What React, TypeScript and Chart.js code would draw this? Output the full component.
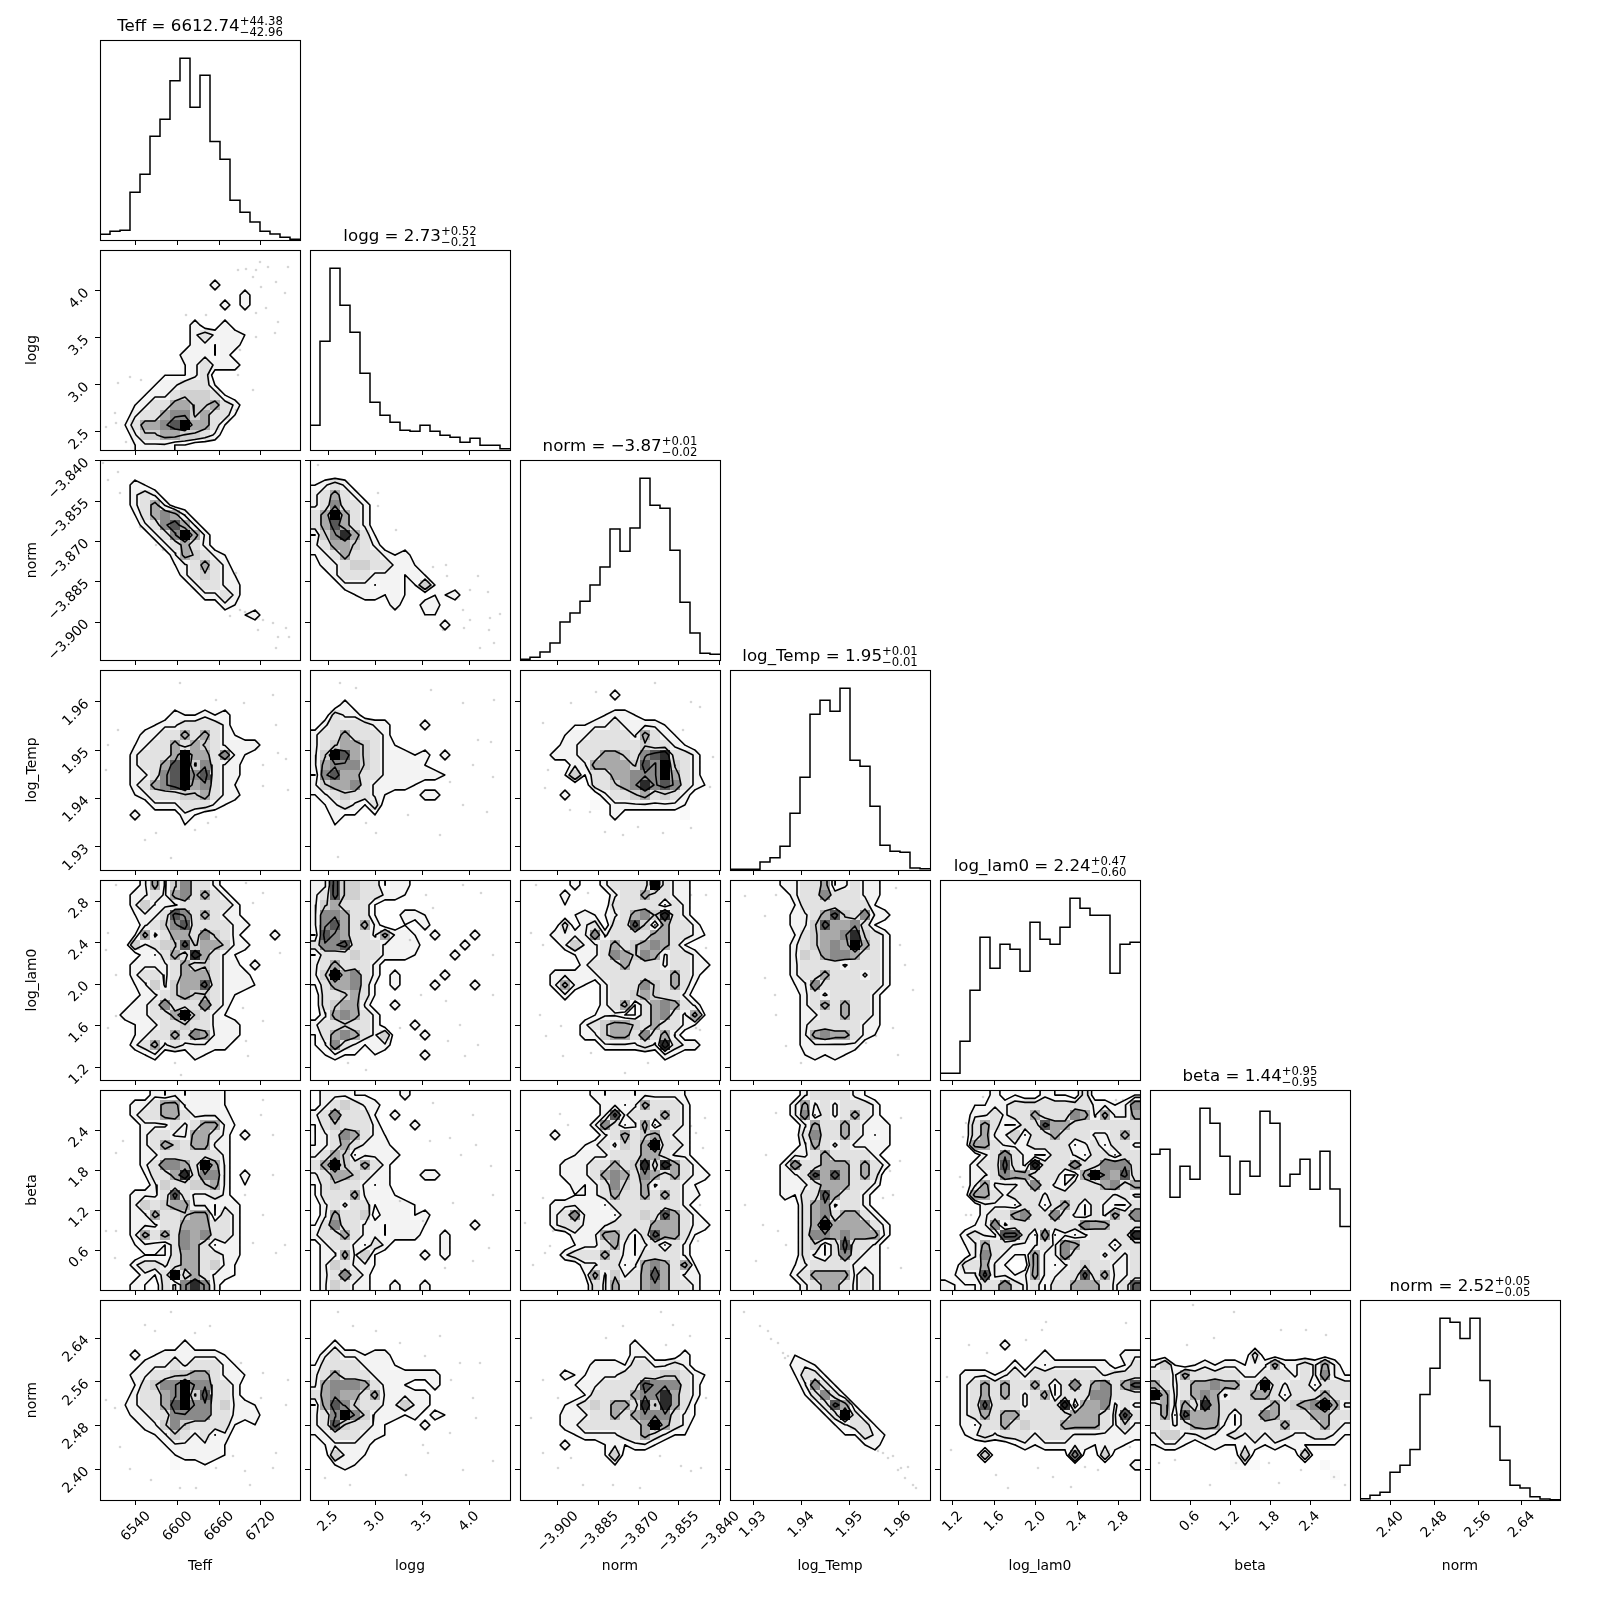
import React, { useEffect, useRef } from "react";
import { Chart, registerables } from "chart.js";

Chart.register(...registerables);

// ---- parameters -------------------------------------------------------
const paramNames = ["Teff", "logg", "norm", "log_Temp", "log_lam0", "beta", "norm"];
const paramRanges = [
  [6488.2, 6776.2],
  [2.308, 4.436],
  [-3.9141, -3.8397],
  [1.92524, 1.96662],
  [1.075, 3.003],
  [0, 3],
  [2.344, 2.71],
];
const paramTicks = [
  [6540, 6600, 6660, 6720],
  [2.5, 3.0, 3.5, 4.0],
  [-3.9, -3.885, -3.87, -3.855, -3.84],
  [1.93, 1.94, 1.95, 1.96],
  [1.2, 1.6, 2.0, 2.4, 2.8],
  [0.6, 1.2, 1.8, 2.4],
  [2.4, 2.48, 2.56, 2.64],
];
const tickDecimals = [0, 1, 3, 2, 1, 1, 2];
const titleValues = ["6612.74", "2.73", "\u22123.87", "1.95", "2.24", "1.44", "2.52"];
const titlePlus = ["+44.38", "+0.52", "+0.01", "+0.01", "+0.47", "+0.95", "+0.05"];
const titleMinus = ["\u221242.96", "\u22120.21", "\u22120.02", "\u22120.01", "\u22120.60", "\u22120.95", "\u22120.05"];

// ---- 1-D histograms (20 bins) -----------------------------------------
const histTeff = [17, 26, 29, 143, 197, 311, 362, 477, 545, 398, 494, 295, 242, 119, 83, 54, 26, 18, 8, 2];
const histLogg = [74, 326, 545, 434, 353, 230, 143, 104, 83, 59, 56, 74, 56, 44, 38, 23, 35, 14, 14, 4];
const histNorm = [2, 8, 24, 51, 114, 141, 176, 225, 279, 393, 326, 396, 545, 464, 455, 329, 173, 81, 20, 17];
const histLogTemp = [2, 2, 2, 24, 37, 71, 170, 278, 467, 509, 476, 545, 329, 311, 191, 74, 56, 53, 6, 4];
const histLogLam0 = [20, 20, 116, 269, 428, 335, 407, 392, 326, 473, 422, 407, 458, 545, 515, 494, 494, 320, 407, 413];
const histBeta = [407, 422, 278, 371, 332, 545, 500, 401, 287, 386, 341, 536, 500, 311, 347, 392, 302, 416, 303, 190];
const histNorm2 = [4, 14, 23, 83, 104, 152, 317, 396, 546, 534, 485, 546, 359, 221, 119, 44, 36, 10, 3, 1];
const histograms = [histTeff, histLogg, histNorm, histLogTemp, histLogLam0, histBeta, histNorm2];

// ---- 2-D density grids: 20 rows top to bottom, 20 columns left to right -
const gridLoggTeff = ["", "", "", "00000000000200000000", "00000000000000200000", "00000000000020200000", "", "00000000020020000000", "00000000023222100000", "00000000022122000000", "00000000222120000000", "00000000123222000000", "00000011123000000000", "00000122333100000000", "00001223444310000000", "00012335544532000000", "00023356645331000000", "00135567955310000000", "00024455443200000000", "00012221100000000000"];
const gridNormTeff = ["", "", "00021000000000000000", "00023200000000000000", "00023520000000000000", "00013565200000000000", "00002367520000000000", "00000236952000000000", "00000023532000000000", "00000002543210000000", "00000001235320000000", "00000000234321000000", "00000000023322000000", "00000000002232000000", "00000000000021000000", "00000000000000120000"];
const gridNormLogg = ["", "", "1232", "23532", "236332", "359532", "357532", "1468531", "2355432", "1235333212", "02234433221", "002333222121", "0002221221141", "000012212100112", "00000000200220000000", "00000000000110000000", "00000000000002000000"];
const gridTempTeff = ["", "", "", "", "00000002112120000000", "00000122333320000000", "00002233535321000000", "00012335354322220000", "00023335955362100000", "00023357946322000000", "00022367967322000000", "00023567956321000000", "00012333445322000000", "00000222333210000000", "00020000210000000000", "00000000100000000000"];
const gridTempLogg = ["", "", "", "00020000000000000000", "00322000000000000000", "02333322000200000000", "23353332000000000000", "23455432100000000000", "24975432221202000000", "256664322221", "16755332222221", "24556322221", "12343321000220000000", "01232130000000000000", "00211010000000000000", "00100000000000000000"];
const gridTempNorm = ["", "", "00000000020000000000", "", "00000000122100000000", "00000112232222100000", "00001223333253210000", "00002233333343321000", "00022233554367833200", "00000225555476943200", "00001413355666953200", "00000003345686763210", "00002000233453432000", "00000001022222221000", "00000000020000001000"];
const gridLamTeff = ["00002524633200000000", "00022325635320000000", "00024222333332000000", "00012237635322000000", "00002346733332200000", "00015235536432000200", "00042344745542200000", "00002135385321000000", "00022223534322020000", "00023323555322200000", "00012424557322210000", "00002234544321000000", "00022363336320000000", "00222335943210000000", "00012233433222000000", "00012335365222000000", "00023523222220000000", "00001200021000000000"];
const gridLamLogg = ["2274433122", "2374433221", "2453331", "26653310022100000000", "26753520010200000000", "17653325221020002000", "36673332222000020000", "13334332221000200000", "2353332", "24956320200002000000", "13556310200020002000", "0334531", "03455200200000000000", "0256532", "23343320002000000000", "13565324000200000000", "12632122", "01211010000200000000"];
const gridLamNorm = ["00000200233339322000", "00002000023353322000", "00001000033333132000", "00000121123564832000", "00003023033741533200", "00022226233335533210", "00002422353456531000", "00000122365465233200", "00000023335333233220", "00022222333333353200", "00025210233364353100", "00002000233454332000", "00000000235135653200", "00000001221135632510", "00000023455435332100", "00000022455363520000", "00000000222232832200", "00000000000000210000"];
const gridLamTemp = ["00000223351232200000", "00000023363332200000", "00000013333333100000", "00000022357436220000", "00000022475563100000", "00000013455684320000", "00000023456595320000", "00000024356653320000", "00000023333233320000", "00000023353332320000", "00000012633333320000", "00000002323333200000", "00000002353533200000", "00000002233533200000", "00000002333332200000", "00000002565532100000", "00000002222220000000", "00000001212100000000"];
const gridBetaTeff = ["00000212122210000000", "00022355222210000000", "00023355322220000000", "00002223235521000000", "00002332255320200000", "00002354355220000000", "00002233333320000000", "00002366539520000000", "00001335836620200000", "00000243344520100000", "00022237322320000000", "00024345522122000000", "00022533455132000000", "00022233555332000000", "00025353656332000000", "00012213653122000000", "00001113553322000000", "00023323553421000000", "00002139353221000000", "00021032686200000000"];
const gridBetaLogg = ["02221100020000000000", "0234322", "23633310200000000000", "13433320002000000000", "12365321", "12353222", "235412222", "35943532", "23554322000220000000", "13433212", "133352221", "02323312221", "025334022212", "13633221222100002000", "23353221222002000000", "02332132000002000000", "02252410000202000000", "0243221", "023632", "02432200200200000000"];
const gridBetaNorm = ["00000002122122221000", "00000000221253332000", "00000000272333532000", "00000002631251332000", "00020000235345322000", "00000012324359332000", "00000122233355322000", "00002223353483853200", "00002223565365353220", "00000212364352332100", "00000112353353532200", "00022222133333332000", "00023622213343753200", "00023322233335553220", "00000222553137553100", "00000122352123132000", "00002333532133332000", "00000022331256535100", "00000015242357532200", "00000003253356533200"];
const gridBetaTemp = ["00000002333321000000", "00000025232333200000", "00000026132353200000", "00000002533532220000", "00000003633532120000", "00000002532322220000", "00000022353333200000", "00000263355535320000", "00000223757535300000", "00000222355533200000", "00000213375332000000", "00000003562332000000", "00000003563553200000", "00000003595555320000", "00000003665655520000", "00000003413733200000", "00000003213632200000", "00000012333322200000", "00000023555523200000", "00000002355323200000"];
const gridBetaLam = ["00000201002110300001", "00011223333333322126", "00022323353336525225", "00035311337553333333", "00035224133533322353", "00055322233331231332", "00002363211332133133", "00023373283336336663", "00022365533311596573", "00025222363213335635", "00055323332333333232", "00002221331353132113", "00002335633632132536", "00012623333333655333", "00232277316121233338", "00125332223265333133", "00026321152263332323", "00335210052123433223", "01227221252233735223", "21113363231335553237"];
const gridN2Teff = ["", "", "", "", "00000000200000000000", "00020122222210000000", "00002223233321000000", "00022334455322100000", "00013466966332000000", "00023356947332000000", "00123357966342210000", "00022336666332220000", "00002246433331010000", "00000124323120000000", "00000012222210000000", "00000001222210000000", "00000001001000000000"];
const gridN2Logg = ["", "", "", "", "00200000000000000000", "02322122", "133332221", "2353332222222", "25666532210020000000", "356553522222", "157643322422", "23696422212021", "23743321000200000000", "12333221", "012222", "004221", "00121"];
const gridN2Norm = ["", "", "", "", "00000000000200000000", "00000000000220002000", "00000002221332232000", "00002112223333443210", "00000122333376663200", "00000013333566853200", "00001234355384853100", "00002223353566632100", "00002233333359532000", "00000122223353211000", "00002000121221000000", "00000000140000000000", "00000000010000000000"];
const gridN2Temp = ["", "", "", "", "", "00000010000000000000", "00000022100000000000", "00000013310000000000", "00000002631000000000", "00000001363100000000", "00000000137510000000", "00000000013931000000", "00000000001233100000", "00000000000113210000", "00000000000001200000"];
const gridN2Lam = ["", "", "", "", "00000020000000000000", "00000000002000000022", "00000002021222222013", "00222123233333332333", "00235353353136356357", "00235353235133366333", "00237333233381556232", "00235355333335553273", "00213353433355553242", "00123233323332222222", "00000001212222212210", "00004000000006004000", "00000000000000000002"];
const gridN2Beta = ["", "", "", "", "", "00000000003000000000", "24101212212252232520", "33253333322333232621", "53235565533932331333", "95235652335531333533", "35253853333353456952", "35175553133653335533", "33235552133335333532", "24422322323233223321", "12210121122121211110", "00000000040000040000", "00000000111000000100", "00000000000000000010"];

// ---- isolated samples, as (column, row) positions in the 20-bin grid -----
const dotsLoggTeff = [16, 1.2, 13.8, 2, 14.6, 1.9, 15.6, 2, 16.8, 1.7, 18.8, 1.7, 15.3, 2.7, 16.1, 3.7, 17.6, 3.2, 18.5, 4.3, 16.6, 5.8, 15.6, 6.3, 10.6, 6.5, 8.6, 6.5, 17.8, 7.2, 17.5, 8.3, 15.6, 8.7, 14, 10, 13.8, 12.5, 15.3, 14, 13.6, 16, 3, 12.7, 1.8, 13.3, 4.1, 13, 1.5, 16.3, 0.6, 17.7, 2.6, 19.2, 1.6, 17.3];
const dotsNormTeff = [1.8, 1.2, 0.8, 2, 2, 3.3, 0.3, 0.3, 4, 6.7, 5.6, 8.5, 6.3, 9, 14, 15, 14.5, 15.2, 13, 15.6, 16.3, 16, 17.3, 16.3, 18.6, 16.8, 17.8, 17.7, 17.6, 18.8, 18.9, 17.7, 15.8, 17, 13.6, 11.3];
const dotsNormLogg = [0.8, 0.5, 6.8, 3.3, 8.6, 7, 6.8, 4.6, 12.3, 10.7, 13.6, 10.5, 13.7, 11.6, 16.8, 11.6, 16, 13, 17.8, 13.2, 15.3, 15, 16, 16, 18, 15.8, 19, 15.4, 15.4, 16.8, 18.4, 18.3, 17, 18.8, 13.3, 17, 17.9, 17];
const dotsTempTeff = [8, 1.3, 11.6, 3, 14.4, 3.3, 17.3, 2.5, 17.6, 5.5, 18.6, 8.9, 17.8, 8.3, 16.3, 9.5, 16.3, 11.6, 18.8, 12, 0.6, 10, 1.8, 6, 0.8, 7.5, 5.6, 16.3, 4.5, 17, 9.5, 16, 10.8, 15.3, 7.1, 18.8, 11.6, 14.7];
const dotsTempLogg = [3, 1.3, 4.6, 1.8, 12.1, 2, 15.3, 3.3, 18.4, 3, 16.8, 7, 18.1, 7.2, 16.3, 9.5, 18.3, 10.7, 14, 11.2, 17.7, 14.2, 15.3, 13.5, 13, 16.5, 9.8, 14.5, 6.6, 16.3, 2.8, 18.7, 5.6, 15.3];
const dotsTempNorm = [5.1, 3.3, 2.3, 5.3, 7.6, 2.2, 13.5, 1.3, 17.1, 3.2, 16.3, 6, 18, 3.7, 19.3, 8.7, 2.8, 10, 2.5, 11.8, 7, 14.2, 5, 14, 10.3, 16.5, 8.5, 16.2, 14.3, 16.3, 17.1, 15.8, 19, 11.7, 11.8, 15.7];
const dotsLamTeff = [1.6, 0.5, 14.6, 0.3, 16.3, 1.3, 15.3, 2.3, 0.8, 5.3, 0.6, 7, 18, 7.3, 14.3, 12.8, 16.3, 14.1, 14.8, 17.6, 7.5, 18.3, 8.1, 19.5, 1.6, 9.5, 1.6, 13.6, 0.8, 14.8, 14.6, 16.1];
const dotsLamLogg = [11.6, 1.5, 15.3, 0.5, 17.1, 1.3, 12.3, 2.8, 18.3, 7.5, 11.1, 11.5, 13.6, 12.1, 18.3, 11.5, 15, 14.5, 13.8, 16.1, 3.8, 18.3, 5.6, 19, 15.5, 17.6, 16.8, 16.5, 9, 14.8, 10, 6];
const dotsLamNorm = [1.6, 0.5, 6.8, 1.3, 17.1, 1.5, 18.6, 1.5, 1.1, 5.3, 2.3, 6.5, 18.6, 6.8, 17.6, 14.8, 4.1, 14.6, 2.6, 15.6, 7.1, 17.3, 4.3, 17.6, 12.8, 18.3, 10.5, 19.3, 18, 15, 2, 13.5];
const dotsLamTemp = [1.5, 1.6, 4.6, 1.5, 3.5, 3.6, 16.6, 0.8, 17, 6.5, 17.5, 8.5, 18.3, 11, 3.5, 9.8, 4.5, 11.5, 4.6, 13.5, 5.6, 16.6, 7.1, 18.3, 14.6, 15.6, 16.3, 14.8, 13.6, 16.3, 16.8, 17.5];
const dotsBetaTeff = [1.6, 6.3, 16.1, 2.5, 16.3, 1, 17.3, 8.5, 18.5, 15.5, 15.3, 15.3, 1.6, 14.1, 0.6, 14.1, 14.5, 10.5, 2.3, 5.1, 17.3, 4.5, 17.6, 16.3, 16.3, 12.5, 1.5, 16.8];
const dotsBetaLogg = [12.3, 1.3, 16.3, 2.5, 14, 4.8, 16.6, 5.5, 15.1, 6.5, 12, 5.1, 14.3, 11.3, 18.3, 10.5, 17.9, 15.8, 11.3, 13.1, 16.3, 17.1, 13.5, 17.8, 9, 11.1, 18.1, 7.6];
const dotsBetaNorm = [4, 2.4, 4.8, 3.5, 17.1, 3.6, 17.6, 4.3, 18.5, 2.8, 3.3, 14.1, 2.5, 16.3, 3, 15.6, 18, 11.5, 2.3, 10.8, 0.5, 13.3, 18.3, 5.8, 17.8, 15.1, 1.3, 17.5];
const dotsBetaTemp = [4.6, 2.3, 3.6, 6.5, 16, 8.1, 17, 7.1, 16.3, 10.5, 15.3, 10.8, 1.5, 11.5, 3.3, 13.5, 4.8, 14.1, 15.8, 15.8, 17.1, 17.8, 17.1, 2.8, 5.6, 15.5, 2.6, 17.1];
const dotsBetaLam = [2.6, 3.3, 2.3, 4.7, 4.3, 0.7, 17.6, 1, 18.3, 1, 2.6, 12.5, 3.1, 12.5, 2.3, 9.7, 2, 8.7];
const dotsN2Teff = [7.1, 1.2, 4.5, 2.5, 5.5, 3.1, 9.5, 3.3, 11, 2.6, 14.1, 6.3, 16.3, 7.3, 18.8, 8, 0.6, 10, 1.5, 10.8, 18.6, 10.5, 16.1, 9.8, 17.6, 15.3, 13.3, 15.6, 17.3, 16.8, 15, 18.5, 14.5, 17.1, 11.6, 16.8, 3, 16.9, 5.1, 18, 8, 18.8, 9.6, 18.8, 2, 14.7];
const dotsN2Logg = [2.8, 1.2, 4.3, 2.6, 6.6, 3.1, 9, 4.3, 13, 3.6, 11.5, 5.6, 15, 6.3, 17, 6.3, 14.1, 8, 16.3, 9.8, 16.6, 11.8, 14, 13.3, 11.3, 14.5, 11.8, 15.3, 9.6, 17.5, 15.3, 17, 18.3, 16.1, 4, 18.5, 1.5, 17.8];
const dotsN2Norm = [10.3, 2.6, 8.6, 3.8, 15.3, 2.5, 14.1, 1.2, 17, 3.6, 14.6, 4.5, 2.3, 8, 3.8, 9.8, 1.1, 11.8, 18.6, 9.8, 2.3, 15.3, 5.1, 15.8, 3.8, 16.8, 6.3, 18.5, 9.3, 18.5, 12, 18.8, 14, 15.6, 16.1, 16.6, 17.1, 17.1, 18.1, 16.8];
const dotsN2Temp = [1.4, 1.2, 3, 2.6, 3.8, 3.1, 4.1, 3.9, 4.8, 4.3, 5.3, 5.3, 5.8, 5.6, 5.5, 5.8, 15.3, 15.3, 15.8, 15.8, 16.3, 15.6, 14.8, 15.1, 17.1, 16.8, 17.8, 16.7, 16.8, 17, 18.3, 18.5, 18.6, 18.8, 17.5, 17.8];
const dotsN2Lam = [10.2, 3, 10.6, 2.2, 8.6, 4, 2.9, 4.5, 4.7, 5.3, 18.6, 2.3, 0.7, 7.7, 1.1, 15, 5.6, 17.5, 9.8, 16.8, 14.5, 16.7, 15.8, 17, 6.8, 18.8, 11.3, 17.7, 19, 14.7, 13.1, 18.7];
const dotsN2Beta = [4.3, 0.5, 6.4, 3.8, 8.4, 1.2, 13.1, 3, 15.6, 3, 17.6, 3.5, 3.7, 4.5, 0.9, 16.3, 2.5, 16, 8.6, 16.3, 18.4, 17.7, 6, 18.5, 19.5, 18.5, 12.9, 18.3, 15.1, 17, 11.9, 16.3];

const panels2D: [number, number, string[], number[]][] = [
  [1, 0, gridLoggTeff, dotsLoggTeff],
  [2, 0, gridNormTeff, dotsNormTeff],
  [2, 1, gridNormLogg, dotsNormLogg],
  [3, 0, gridTempTeff, dotsTempTeff],
  [3, 1, gridTempLogg, dotsTempLogg],
  [3, 2, gridTempNorm, dotsTempNorm],
  [4, 0, gridLamTeff, dotsLamTeff],
  [4, 1, gridLamLogg, dotsLamLogg],
  [4, 2, gridLamNorm, dotsLamNorm],
  [4, 3, gridLamTemp, dotsLamTemp],
  [5, 0, gridBetaTeff, dotsBetaTeff],
  [5, 1, gridBetaLogg, dotsBetaLogg],
  [5, 2, gridBetaNorm, dotsBetaNorm],
  [5, 3, gridBetaTemp, dotsBetaTemp],
  [5, 4, gridBetaLam, dotsBetaLam],
  [6, 0, gridN2Teff, dotsN2Teff],
  [6, 1, gridN2Logg, dotsN2Logg],
  [6, 2, gridN2Norm, dotsN2Norm],
  [6, 3, gridN2Temp, dotsN2Temp],
  [6, 4, gridN2Lam, dotsN2Lam],
  [6, 5, gridN2Beta, dotsN2Beta],
];

// Density digit to gray, and the four contour levels in digit units.
const grayRamp = ["#ffffff", "#f9f9f9", "#f3f3f3", "#e2e2e2", "#d0d0d0", "#a9a9a9", "#8a8a8a", "#565656", "#2a2a2a", "#000000"];
const contourLevels = [1.02, 2.2, 4.2, 6.2];

const FONT = '"DejaVu Sans"';
const TICK_SIZE = 13.9;
const PANEL = 200;
const STEP = 210;
const ORIGIN_X = 100;
const ORIGIN_Y = 40;
const MARGIN_LEFT = 100;
const MARGIN_TOP = 30;
const MARGIN_RIGHT = 45;
const MARGIN_BOTTOM = 100;
const BINS = 20;

function parseGrid(rows: string[]): number[][] {
  const out: number[][] = [];
  for (let r = 0; r < BINS; r++) {
    const s = (rows[r] || "").padEnd(BINS, "0");
    const row: number[] = [];
    for (let c = 0; c < BINS; c++) row.push(Number(s[c]));
    out.push(row);
  }
  return out;
}

// Marching squares over the bin centres; the grid is extended by one
// replicated ring so that lines run out through the panel edges.
function contourPath(grid: number[][], level: number): any[] {
  const at = (r: number, c: number) =>
    grid[Math.max(0, Math.min(BINS - 1, r))][Math.max(0, Math.min(BINS - 1, c))];
  const out: any[] = [];
  const lerp = (a: number, b: number) => (level - a) / (b - a);
  for (let r = -1; r < BINS; r++) {
    for (let c = -1; c < BINS; c++) {
      const tl = at(r, c), tr = at(r, c + 1), br = at(r + 1, c + 1), bl = at(r + 1, c);
      const code = (tl > level ? 8 : 0) | (tr > level ? 4 : 0) | (br > level ? 2 : 0) | (bl > level ? 1 : 0);
      if (code === 0 || code === 15) continue;
      const x0 = c + 0.5, y0 = r + 0.5;
      const top = () => ({ c: x0 + lerp(tl, tr), r: y0 });
      const bottom = () => ({ c: x0 + lerp(bl, br), r: y0 + 1 });
      const left = () => ({ c: x0, r: y0 + lerp(tl, bl) });
      const right = () => ({ c: x0 + 1, r: y0 + lerp(tr, br) });
      const segs: any[][] = [];
      const mean = (tl + tr + br + bl) / 4;
      switch (code) {
        case 1: case 14: segs.push([left(), bottom()]); break;
        case 2: case 13: segs.push([bottom(), right()]); break;
        case 3: case 12: segs.push([left(), right()]); break;
        case 4: case 11: segs.push([top(), right()]); break;
        case 6: case 9: segs.push([top(), bottom()]); break;
        case 7: case 8: segs.push([left(), top()]); break;
        case 5:
          if (mean > level) { segs.push([left(), top()], [bottom(), right()]); }
          else { segs.push([top(), right()], [left(), bottom()]); }
          break;
        case 10:
          if (mean > level) { segs.push([top(), right()], [left(), bottom()]); }
          else { segs.push([left(), top()], [bottom(), right()]); }
          break;
      }
      for (const s of segs) out.push(s[0], s[1], null);
    }
  }
  return out;
}

function fmtTick(v: number, d: number) {
  return v.toFixed(d).replace("-", "\u2212");
}

// Rotated labels are anchored by their end; this slides them along the axis
// so that the middle of the text sits under its tick.
function centreOffset(p: number): number {
  const ctx = document.createElement("canvas").getContext("2d") as CanvasRenderingContext2D;
  ctx.font = `${TICK_SIZE}px ${FONT}`;
  const w = ctx.measureText(fmtTick(paramTicks[p][0], tickDecimals[p])).width;
  return (w / 2) * Math.SQRT1_2;
}

const framePlugin = {
  id: "panelFrame",
  afterDatasetsDraw(chart: any) {
    const { ctx, chartArea: a } = chart;
    ctx.save();
    ctx.strokeStyle = "#000";
    ctx.lineWidth = 1.1;
    ctx.strokeRect(a.left + 0.5, a.top + 0.5, a.right - a.left, a.bottom - a.top);
    ctx.restore();
  },
};

function titlePlugin(p: number) {
  return {
    id: "cornerTitle",
    afterDraw(chart: any) {
      const { ctx, chartArea: a } = chart;
      const main = `${paramNames[p]} = ${titleValues[p]}`;
      ctx.save();
      ctx.fillStyle = "#000";
      ctx.textBaseline = "alphabetic";
      ctx.textAlign = "left";
      ctx.font = `16.67px ${FONT}`;
      const mw = ctx.measureText(main).width;
      ctx.font = `11.67px ${FONT}`;
      const sw = Math.max(ctx.measureText(titlePlus[p]).width, ctx.measureText(titleMinus[p]).width);
      const x = (a.left + a.right) / 2 - (mw + sw) / 2;
      ctx.font = `16.67px ${FONT}`;
      ctx.fillText(main, x, a.top - 9);
      ctx.font = `11.67px ${FONT}`;
      ctx.fillText(titlePlus[p], x + mw, a.top - 15.5);
      ctx.fillText(titleMinus[p], x + mw, a.top - 4.5);
      ctx.restore();
    },
  };
}

function axisOptions(p: number, min: number, max: number, showLabels: boolean, titleText: string | null, isX: boolean) {
  return {
    type: "linear",
    position: isX ? "bottom" : "left",
    min,
    max,
    afterBuildTicks(s: any) {
      s.ticks = paramTicks[p].map((value) => ({ value }));
    },
    afterFit(s: any) {
      if (isX) s.height = MARGIN_BOTTOM;
      else s.width = MARGIN_LEFT;
    },
    grid: { display: true, drawOnChartArea: false, drawTicks: true, tickLength: 5, color: "#000", lineWidth: 1 },
    border: { display: true, color: "#000", width: 1 },
    ticks: {
      display: showLabels,
      autoSkip: false,
      minRotation: 45,
      maxRotation: 45,
      padding: isX ? 3 : 8,
      labelOffset: isX && showLabels ? centreOffset(p) : 0,
      color: "#000",
      font: { family: FONT, size: TICK_SIZE },
      callback: (v: number) => fmtTick(Number(v), tickDecimals[p]),
    },
    title: {
      display: !!titleText,
      text: titleText || "",
      color: "#000",
      font: { family: FONT, size: TICK_SIZE },
      padding: isX ? { top: 0, bottom: 25 } : { top: 24, bottom: 0 },
    },
  };
}

function baseOptions(x: any, y: any) {
  return {
    responsive: false,
    animation: false,
    devicePixelRatio: 1,
    events: [],
    layout: { padding: { left: 0, top: MARGIN_TOP, right: MARGIN_RIGHT, bottom: 0 } },
    plugins: { legend: { display: false }, tooltip: { enabled: false }, title: { display: false } },
    scales: { x, y },
  };
}

function makeHistConfig(p: number): any {
  const [xmin, xmax] = paramRanges[p];
  const hist = histograms[p];
  const w = (xmax - xmin) / BINS;
  const pts = hist.map((y, i) => ({ x: xmin + i * w, y }));
  pts.push({ x: xmax, y: hist[BINS - 1] });
  const last = p === paramNames.length - 1;
  const yAxis: any = axisOptions(p, 0, Math.max(...hist) * 1.1, false, null, false);
  yAxis.afterBuildTicks = (s: any) => { s.ticks = []; };
  yAxis.grid = { display: false };
  yAxis.border = { display: false };
  return {
    type: "scatter",
    data: {
      datasets: [{
        data: pts, showLine: true, stepped: true, pointRadius: 0,
        borderColor: "#000", borderWidth: 1.5, fill: false,
      }],
    },
    options: baseOptions(
      axisOptions(p, xmin, xmax, last, last ? paramNames[p] : null, true),
      yAxis,
    ),
    plugins: [framePlugin, titlePlugin(p)],
  };
}

function make2DConfig(row: number, col: number, rows: string[], dots: number[]): any {
  const [xmin, xmax] = paramRanges[col];
  const [ymin, ymax] = paramRanges[row];
  const grid = parseGrid(rows);
  const X = (c: number) => xmin + (c / BINS) * (xmax - xmin);
  const Y = (r: number) => ymax - (r / BINS) * (ymax - ymin);

  const datasets: any[] = [];
  for (const level of contourLevels) {
    const data = contourPath(grid, level).map((p: any) =>
      p ? { x: X(p.c), y: Y(p.r) } : { x: null, y: null },
    );
    datasets.push({
      data, showLine: true, spanGaps: false, pointRadius: 0,
      borderColor: "#000", borderWidth: 1.6, borderCapStyle: "round", borderJoinStyle: "round", fill: false,
    });
  }
  const dotData: any[] = [];
  for (let i = 0; i + 1 < dots.length; i += 2) dotData.push({ x: X(dots[i]), y: Y(dots[i + 1]) });
  datasets.push({
    data: dotData, showLine: false, pointRadius: 1.3, pointBorderWidth: 0,
    pointBackgroundColor: "rgba(0,0,0,0.16)",
  });
  const cells: any[] = [];
  const colors: string[] = [];
  for (let r = 0; r < BINS; r++) {
    for (let c = 0; c < BINS; c++) {
      if (grid[r][c] > 0) {
        cells.push({ x: X(c + 0.5), y: Y(r + 0.5) });
        colors.push(grayRamp[grid[r][c]]);
      }
    }
  }
  datasets.push({
    data: cells, showLine: false, pointStyle: "rect", pointRadius: 7.1, pointBorderWidth: 0,
    pointBackgroundColor: colors,
  });

  const bottom = row === paramNames.length - 1;
  const leftmost = col === 0;
  return {
    type: "scatter",
    data: { datasets },
    options: baseOptions(
      axisOptions(col, xmin, xmax, bottom, bottom ? paramNames[col] : null, true),
      axisOptions(row, ymin, ymax, leftmost, leftmost ? paramNames[row] : null, false),
    ),
    plugins: [framePlugin],
  };
}

function Panel({ row, col, build }: { row: number; col: number; build: () => any }) {
  const ref = useRef<HTMLCanvasElement | null>(null);
  useEffect(() => {
    const chart = new Chart(ref.current as HTMLCanvasElement, build());
    return () => chart.destroy();
  }, []);
  const width = MARGIN_LEFT + PANEL + MARGIN_RIGHT;
  const height = MARGIN_TOP + PANEL + MARGIN_BOTTOM;
  return (
    <canvas
      ref={ref}
      width={width}
      height={height}
      style={{
        position: "absolute",
        display: "block",
        left: ORIGIN_X + col * STEP - MARGIN_LEFT,
        top: ORIGIN_Y + row * STEP - MARGIN_TOP,
        width,
        height,
      }}
    />
  );
}

export default function App() {
  return (
    <div style={{ position: "absolute", left: 0, top: 0, width: 1600, height: 1600, background: "#fff", overflow: "hidden" }}>
      {histograms.map((_, p) => (
        <Panel key={`h${p}`} row={p} col={p} build={() => makeHistConfig(p)} />
      ))}
      {panels2D.map(([r, c, rows, dots]) => (
        <Panel key={`p${r}-${c}`} row={r} col={c} build={() => make2DConfig(r, c, rows, dots)} />
      ))}
    </div>
  );
}
